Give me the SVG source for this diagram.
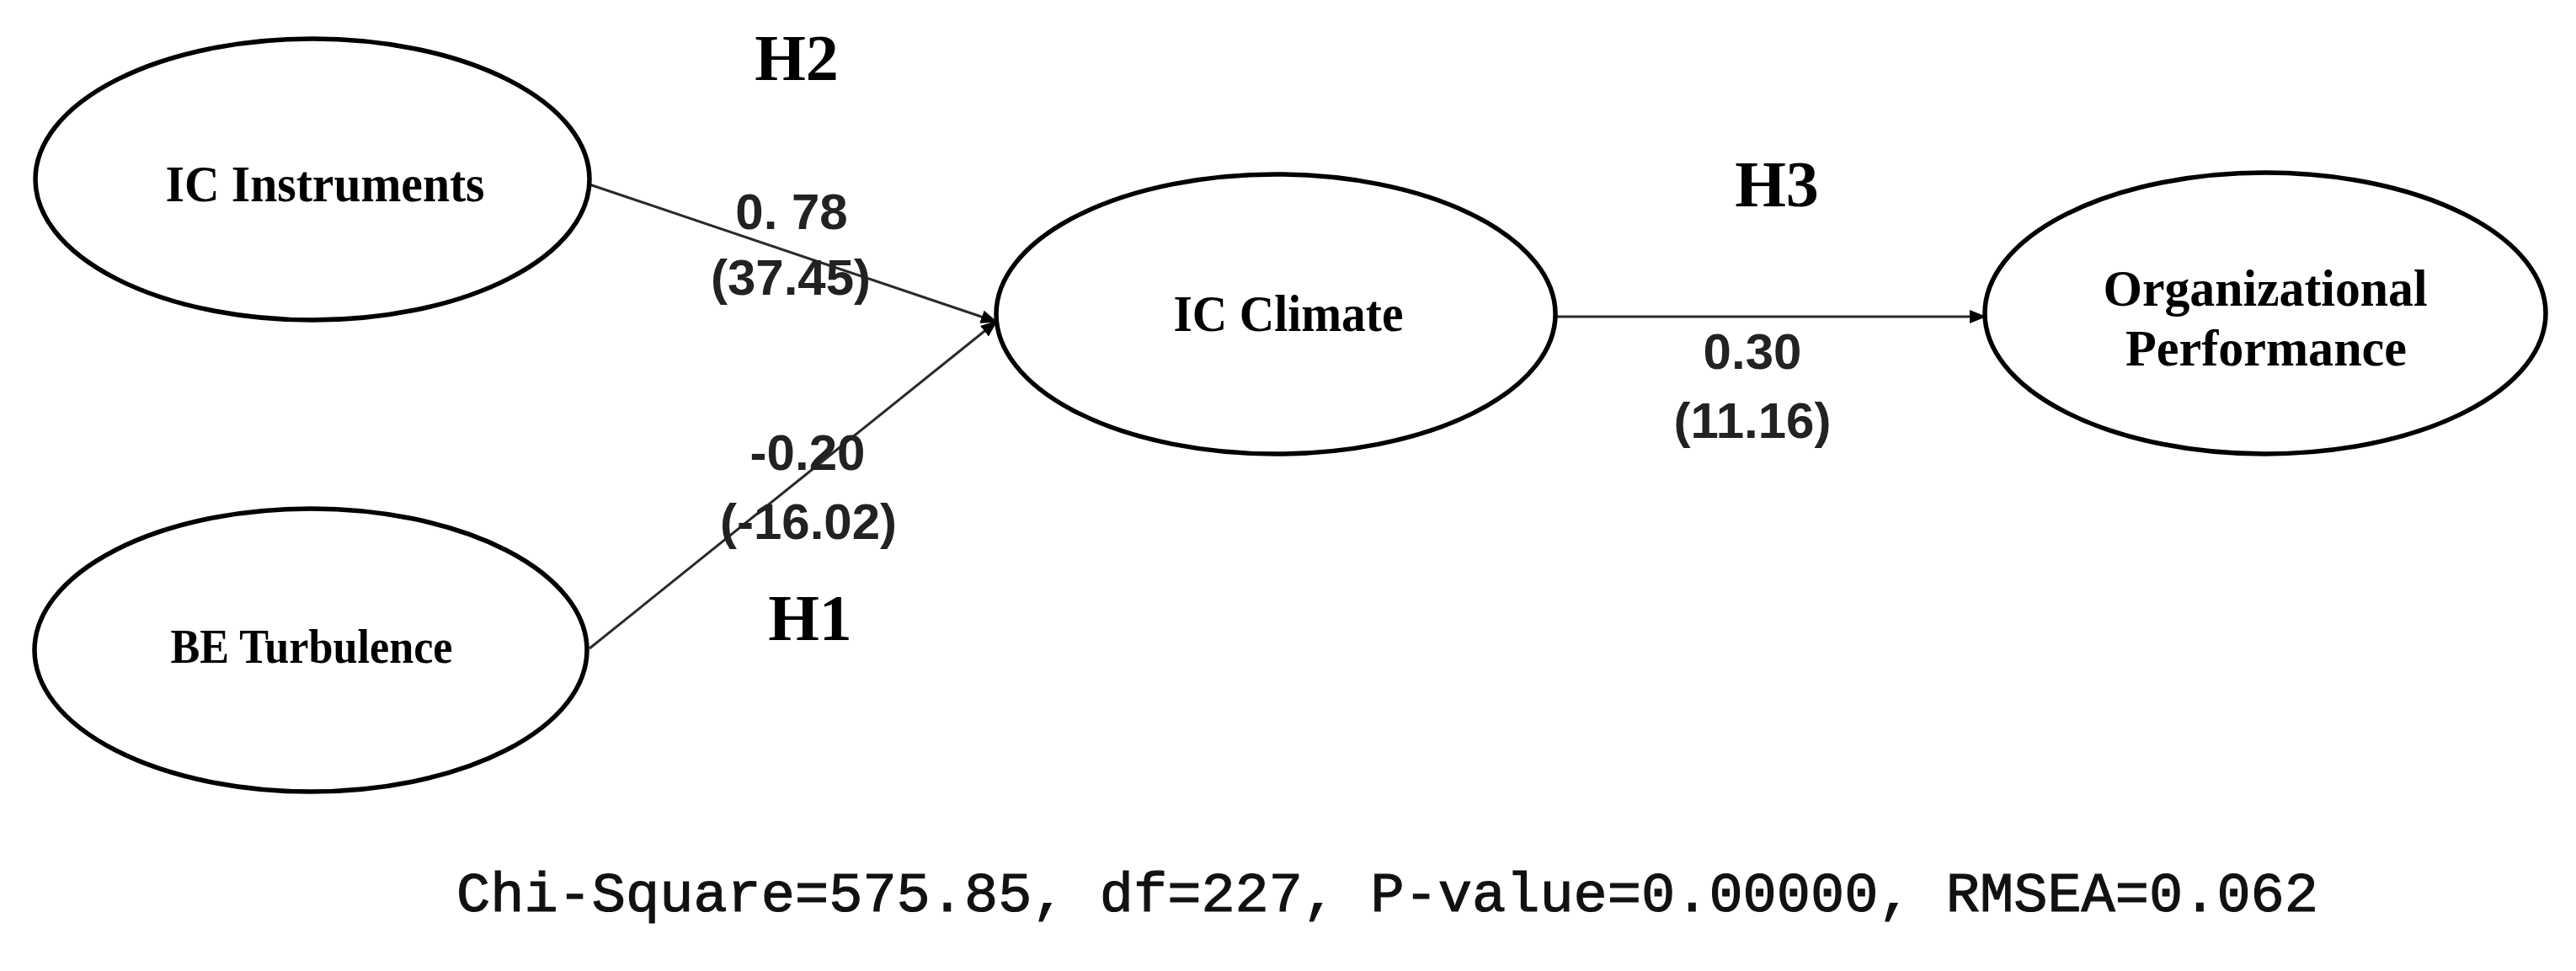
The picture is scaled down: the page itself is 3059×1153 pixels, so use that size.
<svg xmlns="http://www.w3.org/2000/svg" width="3059" height="1153" viewBox="0 0 3059 1153">
  <style>
    .node { fill: #fff; stroke: #000; stroke-width: 5.5; }
    .nlabel { font-family: "Liberation Serif", "Times New Roman", serif; font-weight: bold; fill: #000; text-anchor: middle; }
    .hyp { font-family: "Liberation Serif", "Times New Roman", serif; font-weight: bold; font-size: 78px; fill: #000; text-anchor: middle; }
    .elabel { font-family: "Liberation Sans", Arial, sans-serif; font-weight: bold; font-size: 60px; fill: #222; text-anchor: middle; }
    .edge { stroke: #2a2a2a; stroke-width: 3; fill: none; }
    .fit { font-family: "Liberation Mono", "Courier New", monospace; font-size: 67px; fill: #111; stroke: #111; stroke-width: 1.2; }
  </style>
  <defs>
    <marker id="arrow" markerUnits="userSpaceOnUse" markerWidth="20" markerHeight="16" refX="18" refY="8" orient="auto">
      <path d="M0,0 L20,8 L0,16 Z" fill="#000"/>
    </marker>
  </defs>
  <rect width="3059" height="1153" fill="#fff"/>

  <g id="connectors">
    <line class="edge" x1="700" y1="219" x2="1183" y2="382" marker-end="url(#arrow)"/>
    <line class="edge" x1="700" y1="770" x2="1183" y2="382" marker-end="url(#arrow)"/>
    <line class="edge" x1="1847" y1="376" x2="2357" y2="376" stroke-width="4" marker-end="url(#arrow)"/>
    <text class="elabel" x="940" y="272">0. 78</text>
    <text class="elabel" x="939" y="350">(37.45)</text>
    <text class="elabel" x="959" y="558">-0.20</text>
    <text class="elabel" x="960" y="640">(-16.02)</text>
    <text class="elabel" x="2081" y="438">0.30</text>
    <text class="elabel" x="2081" y="520">(11.16)</text>
  </g>

  <g id="node-ic-instruments">
    <ellipse class="node" cx="371" cy="213" rx="329" ry="167"/>
    <text class="nlabel" x="386" y="239" font-size="62" textLength="379" lengthAdjust="spacingAndGlyphs">IC Instruments</text>
  </g>
  <g id="node-be-turbulence">
    <ellipse class="node" cx="369" cy="772" rx="328" ry="168"/>
    <text class="nlabel" x="370" y="787" font-size="56" textLength="335" lengthAdjust="spacingAndGlyphs">BE Turbulence</text>
  </g>
  <g id="node-ic-climate">
    <ellipse class="node" cx="1515" cy="373" rx="332" ry="166"/>
    <text class="nlabel" x="1530" y="393" font-size="62" textLength="273" lengthAdjust="spacingAndGlyphs">IC Climate</text>
  </g>
  <g id="node-org-performance">
    <ellipse class="node" cx="2690" cy="372" rx="333" ry="167"/>
    <text class="nlabel" x="2690" y="363" font-size="62" textLength="385" lengthAdjust="spacingAndGlyphs">Organizational</text>
    <text class="nlabel" x="2691" y="434" font-size="62" textLength="334" lengthAdjust="spacingAndGlyphs">Performance</text>
  </g>

  <g id="hypotheses">
    <text class="hyp" x="946" y="95">H2</text>
    <text class="hyp" x="962" y="760">H1</text>
    <text class="hyp" x="2110" y="245">H3</text>
  </g>

  <text class="fit" x="542" y="1082" textLength="2211" lengthAdjust="spacingAndGlyphs">Chi-Square=575.85, df=227, P-value=0.00000, RMSEA=0.062</text>
</svg>
